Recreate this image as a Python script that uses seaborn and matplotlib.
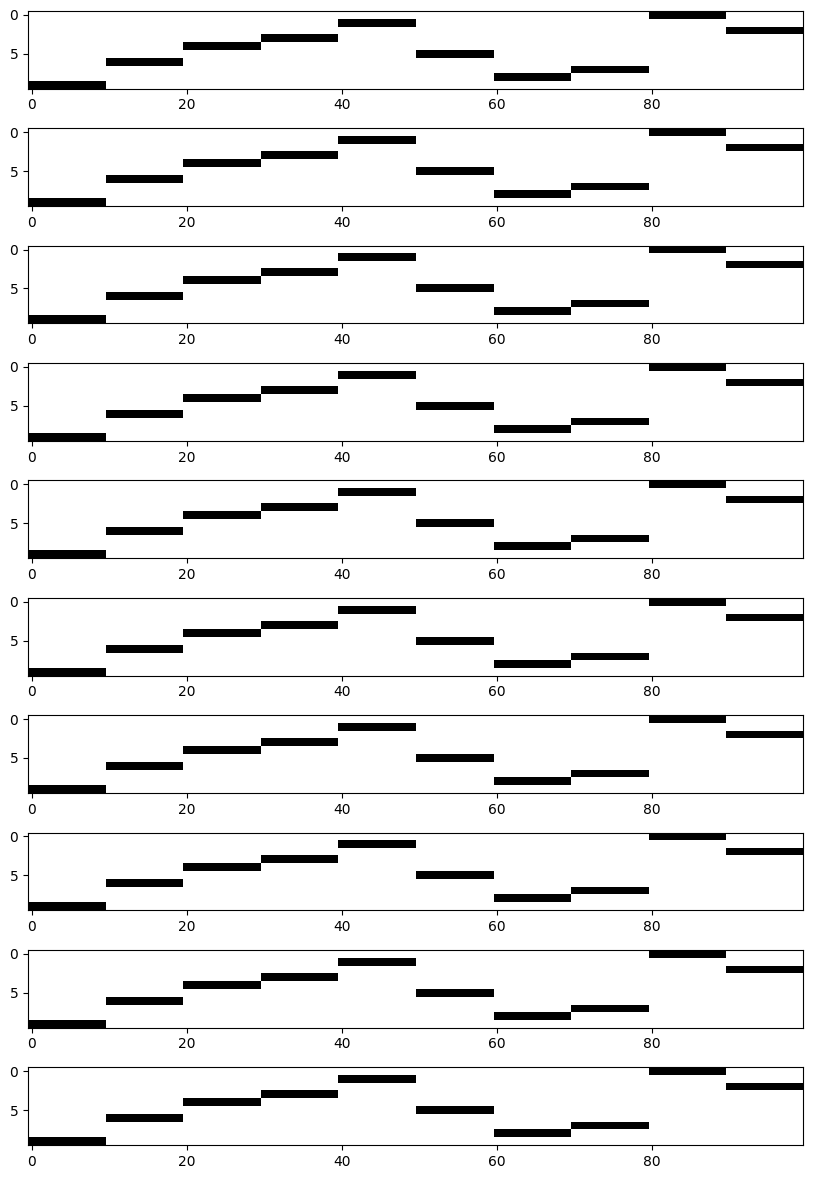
import numpy as np
import matplotlib
matplotlib.use("Agg")
import matplotlib.pyplot as plt
import seaborn as sns

# active row for each block of 10 columns
active_rows = [9, 6, 4, 3, 1, 5, 8, 7, 0, 2]
block_width = 10
n_rows = 10
n_panels = 10

sns.set_style("ticks")
plt.rcParams["font.family"] = ["DejaVu Sans"]

# one-hot matrix: 10 rows x 100 columns
mat = np.zeros((n_rows, len(active_rows) * block_width))
for b, r in enumerate(active_rows):
    mat[r, b * block_width:(b + 1) * block_width] = 1

fig, axes = plt.subplots(n_panels, 1, figsize=(8.13, 11.79), dpi=100)
fig.subplots_adjust(left=28 / 813, right=803 / 813, top=1 - 11 / 1179,
                    bottom=1 - 1145 / 1179, hspace=0.51)

for ax in axes:
    ax.imshow(mat, cmap="binary", aspect="auto", interpolation="nearest")
    ax.set_xticks([0, 20, 40, 60, 80])
    ax.set_yticks([0, 5])
    for s in ax.spines.values():
        s.set_visible(True)
        s.set_color("black")
        s.set_linewidth(0.8)
    ax.tick_params(direction="out", length=3.5, width=0.8, labelsize=10, colors="black")

fig.savefig("out.png", dpi=100)
